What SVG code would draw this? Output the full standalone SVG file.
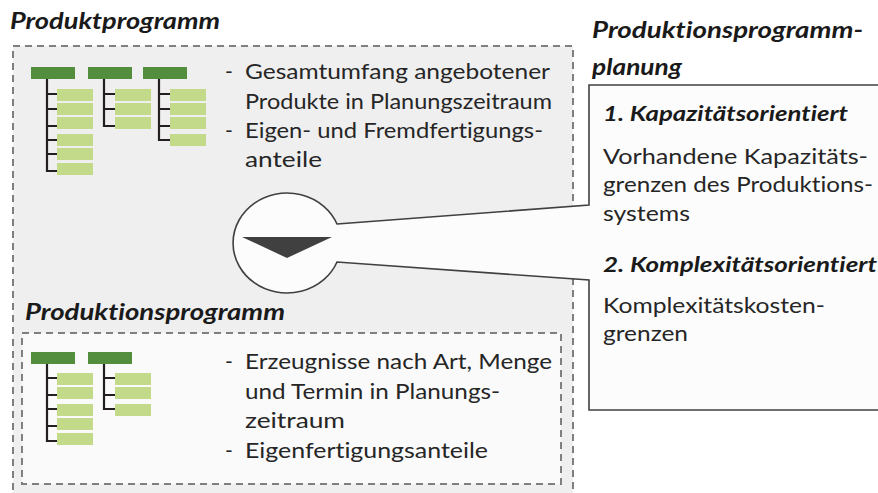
<svg xmlns="http://www.w3.org/2000/svg" width="878" height="493" viewBox="0 0 878 493">
<style>
text{font-variant-ligatures:none}
.t{font-family:Lato,"Liberation Sans",sans-serif;font-size:21px;fill:#262626}
.h{font-family:Lato,"Liberation Sans",sans-serif;font-size:22px;font-weight:bold;font-style:italic;fill:#1a1a1a}
.hb{font-family:Lato,"Liberation Sans",sans-serif;font-size:20.5px;font-weight:bold;font-style:italic;fill:#1a1a1a}
.dg{fill:#528e3e}
.lg{fill:#c4da8b}
.tr{fill:none;stroke:#231f20;stroke-width:2.2}
.box{stroke:#7f7f7f;stroke-width:2;stroke-dasharray:7 5}
</style>
<rect width="878" height="493" fill="#ffffff"/>
<g id="produktprogramm">
<rect class="box" x="13" y="46" width="560" height="460" fill="#efefef"/>
<text class="h" x="10" y="29" textLength="210" lengthAdjust="spacingAndGlyphs">Produktprogramm</text>
<g id="tree-top">
<path class="tr" d="M47 79V171H57M47 94H57M47 109H57M47 126H57M47 140H57M47 154H57"/>
<path class="tr" d="M104 79V126H115M104 94H115M104 109H115"/>
<path class="tr" d="M159 79V140H170M159 94H170M159 109H170M159 126H170"/>
<rect class="dg" x="31" y="67" width="44" height="12"/>
<rect class="dg" x="88" y="67" width="44" height="12"/>
<rect class="dg" x="143" y="67" width="44" height="12"/>
<rect class="lg" x="57" y="89" width="36" height="12"/>
<rect class="lg" x="57" y="103" width="36" height="12"/>
<rect class="lg" x="57" y="117" width="36" height="12"/>
<rect class="lg" x="57" y="134" width="36" height="12"/>
<rect class="lg" x="57" y="148" width="36" height="12"/>
<rect class="lg" x="57" y="163" width="36" height="12"/>
<rect class="lg" x="115" y="89" width="36" height="12"/>
<rect class="lg" x="115" y="103" width="36" height="12"/>
<rect class="lg" x="115" y="117" width="36" height="12"/>
<rect class="lg" x="170" y="89" width="36" height="12"/>
<rect class="lg" x="170" y="103" width="36" height="12"/>
<rect class="lg" x="170" y="117" width="36" height="12"/>
<rect class="lg" x="170" y="134" width="36" height="12"/>
</g>
<text class="t" x="225" y="79">-</text>
<text class="t" x="245" y="79" textLength="305" lengthAdjust="spacingAndGlyphs">Gesamtumfang angebotener</text>
<text class="t" x="245" y="108.5" textLength="307" lengthAdjust="spacingAndGlyphs">Produkte in Planungszeitraum</text>
<text class="t" x="225" y="138">-</text>
<text class="t" x="245" y="138" textLength="298" lengthAdjust="spacingAndGlyphs">Eigen- und Fremdfertigungs-</text>
<text class="t" x="245" y="167" textLength="77" lengthAdjust="spacingAndGlyphs">anteile</text>
</g>
<g id="produktionsprogramm">
<text class="h" x="25" y="320" textLength="260" lengthAdjust="spacingAndGlyphs">Produktionsprogramm</text>
<rect class="box" x="22" y="333" width="539" height="151" fill="#fafafa"/>
<g id="tree-bottom">
<path class="tr" d="M47 364V441H57M47 378H57M47 395H57M47 409H57M47 426H57"/>
<path class="tr" d="M104 364V409H115M104 378H115M104 395H115"/>
<rect class="dg" x="31" y="352" width="44" height="12"/>
<rect class="dg" x="88" y="352" width="44" height="12"/>
<rect class="lg" x="57" y="373" width="36" height="12"/>
<rect class="lg" x="57" y="387" width="36" height="12"/>
<rect class="lg" x="57" y="404" width="36" height="12"/>
<rect class="lg" x="57" y="418" width="36" height="12"/>
<rect class="lg" x="57" y="433" width="36" height="12"/>
<rect class="lg" x="115" y="373" width="36" height="12"/>
<rect class="lg" x="115" y="387" width="36" height="12"/>
<rect class="lg" x="115" y="404" width="36" height="12"/>
</g>
<text class="t" x="225" y="369">-</text>
<text class="t" x="245" y="369" textLength="307" lengthAdjust="spacingAndGlyphs">Erzeugnisse nach Art, Menge</text>
<text class="t" x="245" y="398.5" textLength="255" lengthAdjust="spacingAndGlyphs">und Termin in Planungs-</text>
<text class="t" x="245" y="428" textLength="100" lengthAdjust="spacingAndGlyphs">zeitraum</text>
<text class="t" x="225" y="457.5">-</text>
<text class="t" x="245" y="457.5" textLength="243" lengthAdjust="spacingAndGlyphs">Eigenfertigungsanteile</text>
</g>
<g id="connectors">
<path d="M337 224L589 205V85H882V410H589V280L337 262A54 50 0 1 1 337 224Z" fill="#fcfcfc" stroke="#404040" stroke-width="1.6" stroke-linejoin="miter"/>
<polygon points="242,237 332,237 287,258" fill="#404040"/>
</g>
<g id="planung">
<text class="h" x="592" y="38" textLength="271" lengthAdjust="spacingAndGlyphs">Produktionsprogramm-</text>
<text class="h" x="592" y="75" textLength="90" lengthAdjust="spacingAndGlyphs">planung</text>
<text class="hb" x="603" y="121" textLength="245" lengthAdjust="spacingAndGlyphs">1. Kapazitätsorientiert</text>
<text class="t" x="603" y="163.5" textLength="265" lengthAdjust="spacingAndGlyphs">Vorhandene Kapazitäts-</text>
<text class="t" x="603" y="192" textLength="270" lengthAdjust="spacingAndGlyphs">grenzen des Produktions-</text>
<text class="t" x="603" y="220.5" textLength="87" lengthAdjust="spacingAndGlyphs">systems</text>
<text class="hb" x="603" y="272" textLength="274" lengthAdjust="spacingAndGlyphs">2. Komplexitätsorientiert</text>
<text class="t" x="603" y="313" textLength="222" lengthAdjust="spacingAndGlyphs">Komplexitätskosten-</text>
<text class="t" x="603" y="341" textLength="85" lengthAdjust="spacingAndGlyphs">grenzen</text>
</g>
</svg>
